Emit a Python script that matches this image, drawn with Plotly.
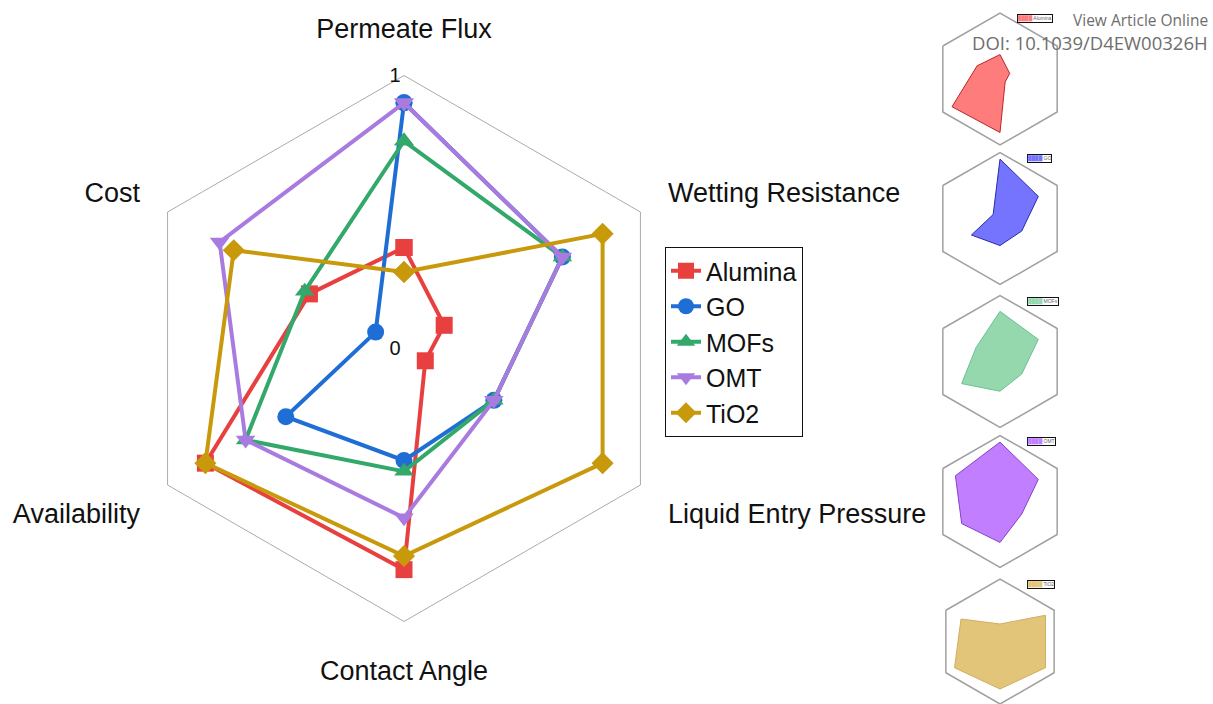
import plotly.graph_objects as go

# ---- data ----
axes_labels = ["Permeate Flux", "Wetting Resistance", "Liquid Entry Pressure",
               "Contact Angle", "Availability", "Cost"]
series_names = ["Alumina", "GO", "MOFs", "OMT", "TiO2"]
alumina = [0.37, 0.17, 0.09, 0.81, 0.84, 0.40]
go_vals = [0.90, 0.67, 0.38, 0.41, 0.50, 0.12]
mofs = [0.76, 0.67, 0.38, 0.45, 0.67, 0.42]
omt = [0.90, 0.67, 0.38, 0.62, 0.67, 0.78]
tio2 = [0.28, 0.84, 0.84, 0.76, 0.84, 0.72]
radial_ticks = [0, 1]
radial_ticktext = ["0", "1"]

series_values = [alumina, go_vals, mofs, omt, tio2]
line_colors = ["#E8403F", "#1F6ED6", "#33A86B", "#A97BE0", "#C9990C"]
symbols = ["square", "circle", "triangle-up", "triangle-down", "diamond"]
fill_colors = ["#FF7C7C", "#7474FF", "#95D8AE", "#C17EFF", "#E3C57A"]
edge_colors = ["#B82828", "#2B2BA8", "#6CC090", "#8840C8", "#CFAE5E"]

W, H = 1213, 704
fig = go.Figure()


def closed(vals):
    return list(vals) + [vals[0]]


cats_closed = closed(axes_labels)

# main radar
for name, vals, lc, sym in zip(series_names, series_values, line_colors, symbols):
    fig.add_trace(go.Scatterpolar(
        r=closed(vals), theta=cats_closed, mode="lines+markers", name=name,
        line=dict(color=lc, width=4),
        marker=dict(symbol=sym, size=17, color=lc),
        subplot="polar", showlegend=True))

# small radars
small_centers = [79, 218.5, 361.5, 501.5, 645]
small_R = 66
cx = 1000
small_domains = []
for i, c in enumerate(small_centers):
    top = c - small_R
    bot = min(c + small_R, H)
    size = bot - top if bot == H else 2 * small_R
    x0 = (cx - size / 2) / W
    x1 = (cx + size / 2) / W
    y0 = 1 - (top + size) / H
    y1 = 1 - top / H
    small_domains.append(([x0, x1], [max(y0, 0), y1], top))

for i, (name, vals) in enumerate(zip(series_names, series_values)):
    sp = "polar%d" % (i + 2)
    fig.add_trace(go.Scatterpolar(
        r=closed(vals), theta=cats_closed, mode="lines", name=name,
        fill="toself", fillcolor=fill_colors[i],
        line=dict(color=edge_colors[i], width=1),
        subplot=sp, showlegend=False))

main_polar = dict(
    domain=dict(x=[131 / W, 677 / W], y=[1 - 621.5 / H, 1 - 75.5 / H]),
    gridshape="linear", bgcolor="white",
    angularaxis=dict(type="category", categoryarray=axes_labels, rotation=90,
                     direction="clockwise", showgrid=False, showline=True,
                     linecolor="#ABABAB", linewidth=1, ticks="outside",
                     ticklen=26, tickcolor="rgba(0,0,0,0)",
                     tickfont=dict(family="Liberation Sans, Arial", size=27, color="#111")),
    radialaxis=dict(range=[0, 1], tickvals=radial_ticks, ticktext=radial_ticktext,
                    angle=90, tickangle=90, side="counterclockwise", showgrid=False,
                    showline=False, ticks="",
                    tickfont=dict(family="Liberation Sans, Arial", size=20, color="#111")),
)

layout = dict(
    width=W, height=H, margin=dict(l=0, r=0, t=0, b=0),
    paper_bgcolor="white", plot_bgcolor="white",
    polar=main_polar,
    legend=dict(x=665 / W, y=1 - 247 / H, xanchor="left", yanchor="top",
                bordercolor="#111", borderwidth=1, bgcolor="white",
                font=dict(family="Liberation Sans, Arial", size=25, color="#111"),
                tracegroupgap=0, itemwidth=30),
)

annotations = []
for i, (dx, dy, top) in enumerate(small_domains):
    layout["polar%d" % (i + 2)] = dict(
        domain=dict(x=dx, y=dy), gridshape="linear", bgcolor="rgba(0,0,0,0)",
        angularaxis=dict(type="category", categoryarray=axes_labels, rotation=90,
                         direction="clockwise", showgrid=False, showline=True,
                         linecolor="#A0A0A0", linewidth=1.5, ticks="",
                         showticklabels=False),
        radialaxis=dict(range=[0, 1], showgrid=False, showline=False, ticks="",
                        showticklabels=False),
    )
    annotations.append(dict(
        x=1017 / W + (0.008 if i > 0 else 0), y=1 - (top + 1) / H,
        xref="paper", yref="paper", xanchor="left", yanchor="top",
        text="<span style='color:%s'>████</span> <span style='color:#666'>%s</span>"
             % (fill_colors[i], series_names[i]),
        showarrow=False, font=dict(family="Liberation Sans, Arial", size=5),
        bordercolor="#111", borderwidth=1, borderpad=0, bgcolor="white"))

annotations.append(dict(x=1210 / W, y=1 - 20 / H, xref="paper", yref="paper",
                        xanchor="right", yanchor="middle", text="View Article Online",
                        showarrow=False,
                        font=dict(family="Open Sans", size=15.5, color="#6E6E6E")))
annotations.append(dict(x=1210 / W, y=1 - 42 / H, xref="paper", yref="paper",
                        xanchor="right", yanchor="middle", text="DOI: 10.1039/D4EW00326H",
                        showarrow=False,
                        font=dict(family="Open Sans", size=18.5, color="#6E6E6E")))
layout["annotations"] = annotations

fig.update_layout(**layout)
fig.write_html("out.html", config={"displayModeBar": False},
               post_script="document.body.style.margin='0';document.body.style.overflow='hidden';")
